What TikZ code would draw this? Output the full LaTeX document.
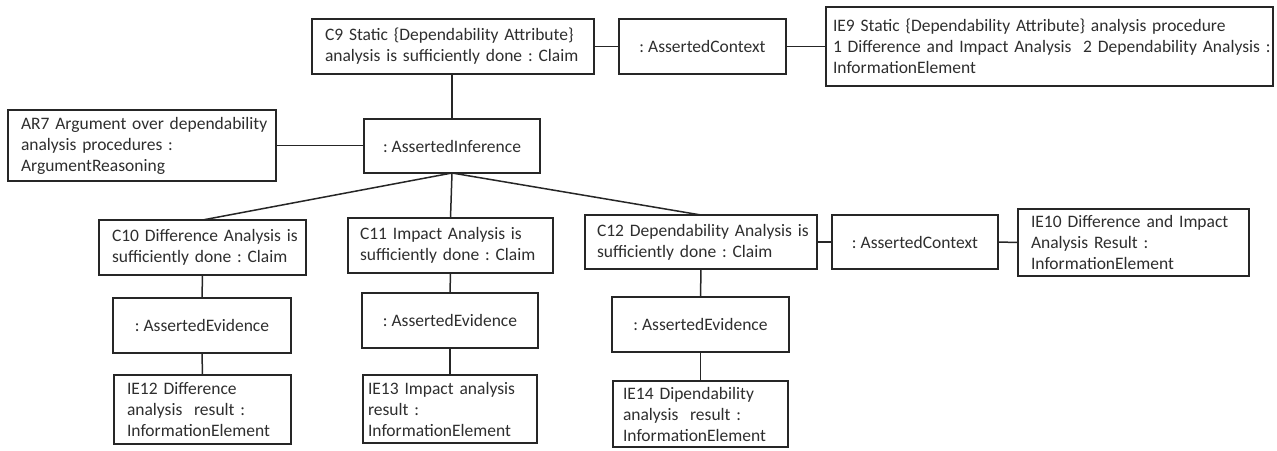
\documentclass[tikz,border=0pt]{standalone}
\usepackage{fontspec}
\setmainfont{Carlito}
\newcommand\lnx[1]{\mbox{#1}}
\begin{document}
\frenchspacing
\begin{tikzpicture}[x=1pt,y=-1pt,
  base/.style={draw=black!85, line width=1.5pt, text=black!82,
    font=\fontsize{17.5}{21}\selectfont\frenchspacing, inner ysep=0pt, outer sep=0pt, anchor=center},
  lbox/.style={base, align=left},
  cbox/.style={base, align=center, inner xsep=0pt},
  conn/.style={draw=black!85, line width=1.5pt}]
\useasboundingbox (0,0) rectangle (1277,450);

% top row
\node[lbox, inner xsep=13pt, text width=256pt, minimum height=55pt] (C9) at (453,46.5)
  {\lnx{C9 Static \{Dependability Attribute\}}\\\lnx{analysis is sufficiently done : Claim}};
\node[cbox, minimum width=167pt, minimum height=55pt] (AC1) at (702.5,46.5) {: AssertedContext};
\node[lbox, inner xsep=7pt, text width=433pt, minimum height=79pt] (IE9) at (1049.5,46.5)
  {\lnx{IE9 Static \{Dependability Attribute\} analysis procedure}\\\lnx{1 Difference and Impact Analysis\ \ 2 Dependability Analysis :}\\\lnx{InformationElement}};

% second row
\node[lbox, inner xsep=13pt, text width=242pt, minimum height=71pt] (AR7) at (142,145.5)
  {\lnx{AR7 Argument over dependability}\\\lnx{analysis procedures :}\\\lnx{ArgumentReasoning}};
\node[cbox, minimum width=176pt, minimum height=54pt] (AI) at (452,146) {: AssertedInference};

% claims
\node[lbox, inner xsep=13pt, text width=181pt, minimum height=55pt] (C10) at (202.5,247.5)
  {\lnx{C10 Difference Analysis is}\\\lnx{sufficiently done : Claim}};
\node[lbox, inner xsep=12pt, text width=181pt, minimum height=55pt] (C11) at (450.5,245.5)
  {\lnx{C11 Impact Analysis is}\\\lnx{sufficiently done : Claim}};
\node[lbox, inner xsep=12pt, text width=208pt, minimum height=54pt] (C12) at (701,242)
  {\lnx{C12 Dependability Analysis is}\\\lnx{sufficiently done : Claim}};
\node[cbox, minimum width=166pt, minimum height=54pt] (AC2) at (915,242) {: AssertedContext};
\node[lbox, inner xsep=13pt, text width=205pt, minimum height=67pt] (IE10) at (1133.5,242.5)
  {\lnx{IE10 Difference and Impact}\\\lnx{Analysis Result :}\\\lnx{InformationElement}};

% evidence
\node[cbox, minimum width=178pt, minimum height=55pt] (AE1) at (202,325.5) {: AssertedEvidence};
\node[cbox, minimum width=176pt, minimum height=55pt] (AE2) at (450,320.5) {: AssertedEvidence};
\node[cbox, minimum width=177pt, minimum height=55pt] (AE3) at (700.5,324.5) {: AssertedEvidence};

% information elements
\node[lbox, inner xsep=13pt, text width=151pt, minimum height=69pt] (IE12) at (202.5,409.5)
  {\lnx{IE12 Difference}\\\lnx{analysis\ \ result :}\\\lnx{InformationElement}};
\node[lbox, inner xsep=5pt, text width=164pt, minimum height=68pt] (IE13) at (450,409)
  {\lnx{IE13 Impact analysis}\\\lnx{result :}\\\lnx{InformationElement}};
\node[lbox, inner xsep=10pt, text width=155pt, minimum height=66pt] (IE14) at (700.5,414)
  {\lnx{IE14 Dipendability}\\\lnx{analysis\ \ result :}\\\lnx{InformationElement}};

% connectors
\draw[conn] (C9.east) -- (AC1.west);
\draw[conn] (AC1.east) -- (IE9.west);
\draw[conn] (C9.south -| AI.north) -- (AI.north);
\draw[conn] (AR7.east) -- (AR7.east -| AI.west);
\draw[conn] (AI.south) -- (C10.north);
\draw[conn] (AI.south) -- (C11.north);
\draw[conn] (AI.south) -- (C12.north);
\draw[conn] (C12.east) -- (AC2.west);
\draw[conn] (AC2.east) -- (IE10.west);
\draw[conn] (C10.south) -- (AE1.north);
\draw[conn] (AE1.south) -- (IE12.north);
\draw[conn] (C11.south) -- (AE2.north);
\draw[conn] (AE2.south) -- (IE13.north);
\draw[conn] (C12.south) -- (AE3.north);
\draw[conn] (AE3.south) -- (IE14.north);
\end{tikzpicture}
\end{document}
